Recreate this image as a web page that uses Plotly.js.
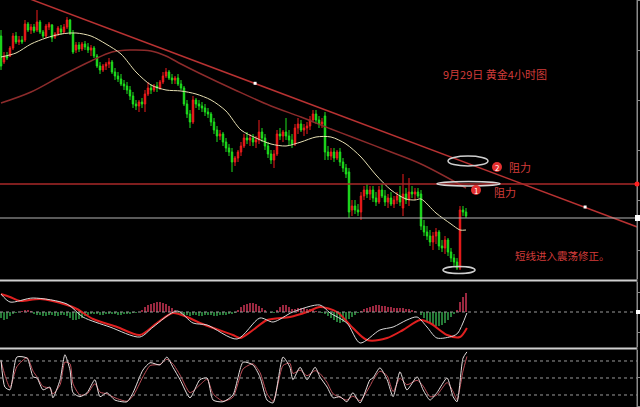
<!DOCTYPE html>
<html><head><meta charset="utf-8">
<script src="https://cdn.plot.ly/plotly-3.0.1.min.js"></script>
<style>html,body{margin:0;padding:0;background:#000;}#chart{width:640px;height:407px;}</style>
</head><body><div id="chart"></div>
<script>
// ---- 4h gold candles (price units) ----
const openP  = [1864,1838,1844,1844,1852,1864,1858,1860,1860,1876,1870,1873,1870,1878,1868,1864,1873,1875,1863,1866,1871,1868,1873,1880,1867,1850,1855,1851,1856,1853,1850,1852,1844,1834,1830,1834,1836,1838,1828,1824,1821,1816,1814,1810,1804,1796,1794,1798,1796,1806,1812,1810,1814,1812,1818,1824,1828,1822,1820,1822,1816,1812,1796,1786,1778,1800,1796,1794,1792,1788,1786,1778,1770,1764,1766,1758,1752,1748,1738,1742,1748,1754,1762,1760,1762,1758,1760,1768,1762,1754,1746,1740,1746,1766,1764,1768,1764,1760,1756,1772,1776,1770,1772,1774,1780,1786,1780,1776,1784,1748,1744,1748,1742,1748,1738,1732,1728,1690,1694,1690,1688,1704,1710,1706,1710,1702,1698,1710,1704,1698,1702,1696,1700,1704,1692,1706,1700,1708,1706,1708,1706,1674,1668,1664,1658,1664,1668,1654,1652,1660,1648,1642,1638,1632,1690,1688];
const highP  = [1870,1848,1848,1854,1867,1868,1864,1864,1880,1878,1876,1876,1890,1880,1870,1876,1878,1876,1868,1874,1875,1876,1883,1881,1870,1858,1858,1858,1859,1857,1855,1854,1846,1838,1836,1838,1842,1840,1832,1828,1826,1820,1818,1814,1808,1800,1800,1802,1810,1818,1816,1816,1818,1820,1828,1832,1830,1826,1824,1826,1820,1814,1800,1790,1804,1802,1800,1798,1796,1792,1788,1782,1774,1770,1768,1762,1756,1752,1744,1750,1758,1766,1768,1766,1766,1764,1780,1772,1766,1758,1750,1750,1770,1772,1770,1782,1770,1766,1776,1782,1780,1776,1778,1784,1790,1790,1784,1782,1788,1754,1752,1752,1750,1752,1742,1736,1732,1700,1700,1696,1708,1714,1716,1714,1714,1708,1714,1716,1710,1706,1708,1704,1708,1714,1726,1712,1722,1714,1712,1712,1710,1680,1674,1670,1668,1672,1670,1660,1664,1662,1652,1646,1642,1694,1694,1692];
const lowP   = [1830,1836,1840,1843,1850,1856,1855,1856,1858,1868,1866,1867,1868,1866,1862,1862,1870,1858,1861,1864,1865,1866,1871,1865,1846,1847,1848,1849,1850,1847,1844,1842,1832,1826,1828,1830,1832,1826,1820,1818,1814,1810,1806,1800,1792,1790,1788,1792,1788,1804,1806,1808,1808,1810,1816,1822,1820,1816,1816,1814,1810,1794,1782,1772,1776,1792,1790,1788,1784,1782,1774,1766,1758,1760,1754,1748,1744,1728,1734,1738,1744,1752,1756,1754,1754,1752,1756,1758,1750,1742,1736,1732,1744,1760,1758,1760,1754,1752,1754,1766,1768,1764,1766,1770,1778,1776,1772,1772,1740,1740,1740,1738,1740,1734,1728,1722,1682,1684,1686,1684,1680,1700,1702,1700,1698,1694,1696,1702,1694,1692,1694,1692,1696,1694,1684,1696,1694,1702,1700,1702,1670,1664,1660,1654,1650,1656,1650,1648,1646,1644,1638,1634,1630,1630,1684,1682];
const closeP = [1834,1844,1842,1852,1864,1858,1860,1858,1876,1870,1873,1869,1878,1868,1864,1874,1876,1862,1866,1872,1868,1873,1880,1867,1848,1855,1851,1856,1853,1850,1852,1844,1834,1830,1834,1836,1838,1828,1824,1821,1816,1814,1810,1804,1796,1794,1798,1796,1806,1812,1810,1814,1812,1818,1824,1828,1822,1820,1822,1816,1812,1796,1786,1778,1800,1796,1794,1792,1788,1786,1778,1770,1764,1766,1758,1752,1748,1738,1742,1748,1754,1762,1760,1762,1758,1760,1768,1762,1754,1746,1740,1746,1766,1764,1768,1764,1760,1756,1772,1776,1770,1772,1774,1780,1786,1780,1776,1778,1748,1744,1748,1742,1748,1738,1732,1726,1688,1694,1690,1688,1704,1710,1706,1710,1702,1698,1710,1704,1698,1702,1696,1700,1704,1698,1706,1700,1708,1706,1708,1704,1674,1668,1664,1658,1664,1668,1654,1652,1660,1648,1642,1638,1632,1690,1688,1684];

// moving averages (read at candle positions)
const maFastIdx = [0,5,10,15,20,25,30,35,40,45,50,55,60,65,70,75,80,85,90,95,100,105,110,115,120,125,130,135,138,140,145,150,153,155];
const maFastVal = [1843,1847,1856,1862,1866,1867,1864,1856,1846,1828,1815,1810,1809,1806,1800,1789,1770,1762,1756,1754,1758,1763,1763,1756,1743,1725,1710,1701,1700,1701,1687,1676,1670,1670];
const maSlowIdx = [0,10,20,30,37,43,50,55,60,66,78,90,100,110,117,130,140,155];
const maSlowVal = [1797,1808,1824,1839,1848,1850,1849,1844,1836,1827,1810,1794,1783,1771,1763,1748,1736,1712];

// trendline and levels
const trendIdx = [-1, 84.7, 194.7, 213];
const trendVal = [1913, 1816.7, 1693, 1672];
const anchorIdx = [84.7, 194.7];
const anchorVal = [1816.7, 1693];
const resistLevel = 1716;
const supportLevel = 1682;

// MACD
const difIdx = [0,3,10.7,22,27.3,36.3,46.3,50.7,58.7,64,68.7,78.7,86.3,90.7,97.3,106.3,109.7,115.3,119.7,126.3,130.7,135.3,138.7,142,145.3,150.7,152.3,155.3];
const difVal = [18,10,14,8,-5,-15,-25,-15,1,-11,-13,-27,-6,-10,0,7,-1,-11,-31,-18,-15,-8,-5,-15,-26,-24,-21,-1];
const deaIdx = [0,3,6.3,13,22,25.3,30.7,38.7,46.3,52,57.3,62,66.3,77.3,79.7,84,88.7,96.3,102,106.3,112,117.3,122,128.7,134,139.7,143,148.7,153,155.3];
const deaVal = [18,15,11,13,7,3,-7,-15,-23,-11,-1,-5,-11,-23,-26,-18,-8,-5,0,5,0,-16,-28,-26,-18,-8,-11,-23,-25,-16];
const histVal = [-6,-8,-7,-4,-2,-1,0,1,2,2,1,-2,-3,-3,-4,-4,-3,-3,-4,-4,-3,-3,-4,-6,-8,-8,-7,-6,-4,-3,
 -2,-2,-2,-3,-3,-2,-2,-2,-2,-3,-3,-2,-2,-2,-1,-1,0,2,5,7,8,9,10,10,9,8,6,4,2,
 -1,-2,-3,-3,-4,-3,-3,-4,-4,-3,-3,-3,-4,-4,-3,-3,-3,-2,-2,-1,2,5,7,8,9,9,8,6,4,2,
 0,-1,-1,2,5,7,7,5,3,3,4,4,4,3,3,2,1,0,-1,-2,-4,-6,-8,-10,-11,-10,-9,-7,-5,-3,
 -1,1,3,4,5,6,7,7,6,6,5,5,4,4,4,4,3,3,2,1,0,-3,-6,-9,-11,-13,-14,-14,-13,-11,-8,-5,-2,2,10,15,19];

// Stochastic (K white, D red)
const kdIdx = [0,1.3,3,5.3,8.7,10.7,12,14,16.3,17.3,19.7,21.3,23,24,26.3,28.7,31.3,33,35.3,38,42,44,47.3,49.7,53,55.3,57.3,59.7,63,66.3,68.7,70.7,74,77.3,80.7,84,86.3,88.7,90.7,94,96.3,97.3,99.7,102,104.7,106.3,108.7,110.7,113,115.3,117.3,119.7,123,124,126.3,128.7,130.7,133,135.3,138.7,140.7,143,145.3,148.7,150.7,152,154,155.3];
const kVal = [82,34,29,87,85,52,50,29,34,15,47,91,64,24,17,24,47,17,24,11,8,24,64,77,73,87,69,47,15,47,50,11,8,20,78,73,52,11,6,87,69,47,69,47,69,52,34,15,17,8,24,6,47,50,68,47,17,61,29,52,29,11,24,50,17,8,85,96];
const dVal = [80,55,33,70,86,62,52,35,32,22,38,78,75,40,20,22,40,25,22,15,9,18,52,72,74,83,75,55,24,38,48,22,9,16,66,75,60,22,9,72,76,58,64,54,63,58,42,22,16,11,18,10,36,46,62,54,26,50,38,46,36,17,20,42,26,12,62,88];
const stochLevels = [80, 50, 20];

const candleIdx = openP.map((_, i) => i);
const W = 640, H = 407;
const px = v => v / W, py = v => 1 - v / H;

const traces = [
  {type:'bar', x:candleIdx, y:histVal, width:0.45, marker:{color:histVal.map(v => v >= 0 ? '#9a2840' : '#267a38'), line:{width:0}}, xaxis:'x', yaxis:'y2', hoverinfo:'skip'},
  {type:'scatter', mode:'lines', x:deaIdx, y:deaVal, line:{color:'#e02020', width:2, shape:'spline', smoothing:0.8}, xaxis:'x', yaxis:'y2', hoverinfo:'skip'},
  {type:'scatter', mode:'lines', x:difIdx, y:difVal, line:{color:'#d8d8d8', width:1, shape:'spline', smoothing:0.8}, xaxis:'x', yaxis:'y2', hoverinfo:'skip'},
  {type:'scatter', mode:'lines', x:kdIdx, y:dVal, line:{color:'#c0505a', width:1, shape:'spline', smoothing:0.6}, xaxis:'x', yaxis:'y3', hoverinfo:'skip'},
  {type:'scatter', mode:'lines', x:kdIdx, y:kVal, line:{color:'#e8e0e0', width:1, shape:'spline', smoothing:0.6}, xaxis:'x', yaxis:'y3', hoverinfo:'skip'},
  {type:'scatter', mode:'lines', x:maSlowIdx, y:maSlowVal, line:{color:'#8c2b2b', width:1.5, shape:'spline', smoothing:1}, xaxis:'x', yaxis:'y', hoverinfo:'skip'},
  {type:'scatter', mode:'lines', x:trendIdx, y:trendVal, line:{color:'#b83232', width:1.5}, xaxis:'x', yaxis:'y', hoverinfo:'skip'},
  {type:'scatter', mode:'markers', x:anchorIdx, y:anchorVal, marker:{color:'#ffffff', size:3, symbol:'square'}, xaxis:'x', yaxis:'y', hoverinfo:'skip'},
  {type:'candlestick', x:candleIdx, open:openP, high:highP, low:lowP, close:closeP,
   increasing:{line:{color:'#f01c1c', width:1}, fillcolor:'#f01c1c'},
   decreasing:{line:{color:'#1ee01e', width:1}, fillcolor:'#1ee01e'},
   whiskerwidth:0, xaxis:'x', yaxis:'y', hoverinfo:'skip'},
  {type:'scatter', mode:'lines', x:maFastIdx, y:maFastVal, line:{color:'#e6dfb2', width:1, shape:'spline', smoothing:0.8}, xaxis:'x', yaxis:'y', hoverinfo:'skip'}
];

const yBase = {side:'right', anchor:'x', showgrid:false, zeroline:false, showticklabels:false,
  ticks:'outside', ticklen:3, tickcolor:'#8a8a8a', showline:true, linecolor:'#8a8a8a', linewidth:1, fixedrange:true};

const red = '#d23c3a';
const cjk = '"Noto Sans CJK SC", sans-serif';
const shapes = [
  {type:'line', xref:'paper', yref:'y', x0:0, x1:637/640, y0:resistLevel, y1:resistLevel, line:{color:'#a82828', width:1.5}},
  {type:'line', xref:'paper', yref:'y', x0:0, x1:637/640, y0:supportLevel, y1:supportLevel, line:{color:'#b4b4b4', width:1}},
  {type:'line', xref:'paper', yref:'y2', x0:0, x1:637/640, y0:0, y1:0, line:{color:'#9a9a9a', width:1, dash:'dot'}},
  ...stochLevels.map(l => ({type:'line', xref:'paper', yref:'y3', x0:0, x1:637/640, y0:l, y1:l, line:{color:'#9a9a9a', width:1, dash:'dot'}})),
  {type:'line', xref:'paper', yref:'paper', x0:0, x1:637/640, y0:py(280.5), y1:py(280.5), line:{color:'#cfcfcf', width:2}},
  {type:'line', xref:'paper', yref:'paper', x0:0, x1:637/640, y0:py(348.5), y1:py(348.5), line:{color:'#cfcfcf', width:2}},
  {type:'line', xref:'paper', yref:'paper', x0:637/640, x1:637/640, y0:0, y1:1, line:{color:'#8a8a8a', width:1}},
  {type:'circle', xref:'paper', yref:'paper', x0:px(634.5), x1:px(639.5), y0:py(186.5), y1:py(181.5), fillcolor:'#ff2020', line:{width:0}},
  {type:'rect', xref:'paper', yref:'paper', x0:px(635), x1:px(640), y0:py(221), y1:py(215), fillcolor:'#ffffff', line:{width:0}},
  {type:'rect', xref:'paper', yref:'paper', x0:px(636), x1:px(640), y0:py(314), y1:py(310), fillcolor:'#ffffff', line:{width:0}},
  // annotation ellipses
  {type:'circle', xref:'paper', yref:'paper', x0:px(448), x1:px(488), y0:py(166), y1:py(156), line:{color:'#cfcfcf', width:1.5}},
  {type:'circle', xref:'paper', yref:'paper', x0:px(437), x1:px(500), y0:py(186), y1:py(181.5), line:{color:'#d8d8d8', width:1.5}},
  {type:'circle', xref:'paper', yref:'paper', x0:px(443), x1:px(475), y0:py(273.5), y1:py(266.5), line:{color:'#cfcfcf', width:1.5}},
  {type:'circle', xref:'paper', yref:'paper', x0:px(492), x1:px(502), y0:py(172), y1:py(162), fillcolor:'#e23030', line:{width:0}},
  {type:'circle', xref:'paper', yref:'paper', x0:px(471), x1:px(481), y0:py(195), y1:py(185), fillcolor:'#e23030', line:{width:0}}
];
const ann = (t, x, y, size, color) => ({text:t, xref:'paper', yref:'paper', x:px(x), y:py(y), xanchor:'center', yanchor:'middle', showarrow:false, font:{family:cjk, size:size, color:color}});
const annotations = [
  ann('9月29日 黄金4小时图', 495, 74, 11, red),
  ann('阻力', 520, 167, 11, red),
  ann('阻力', 505, 192, 11, red),
  ann('短线进入震荡修正。', 562, 255, 10.5, red),
  ann('2', 497, 167, 8, '#ffffff'),
  ann('1', 476, 190, 8, '#ffffff')
];

const layout = {
  width:W, height:H, margin:{l:0, r:0, t:0, b:0},
  paper_bgcolor:'#000000', plot_bgcolor:'#000000', showlegend:false,
  xaxis:{domain:[0, 637/640], range:[-1/3, 212], visible:false, rangeslider:{visible:false}, fixedrange:true, anchor:'y3'},
  yaxis:Object.assign({}, yBase, {domain:[py(279), 1], range:[1621, 1900]}),
  yaxis2:Object.assign({}, yBase, {domain:[py(347), py(282)], range:[-35, 30]}),
  yaxis3:Object.assign({}, yBase, {domain:[0, py(350)], range:[-1.2, 99.4]}),
  shapes:shapes, annotations:annotations, bargap:0
};
Plotly.newPlot('chart', traces, layout, {staticPlot:true, displayModeBar:false});
</script>
</body></html>
